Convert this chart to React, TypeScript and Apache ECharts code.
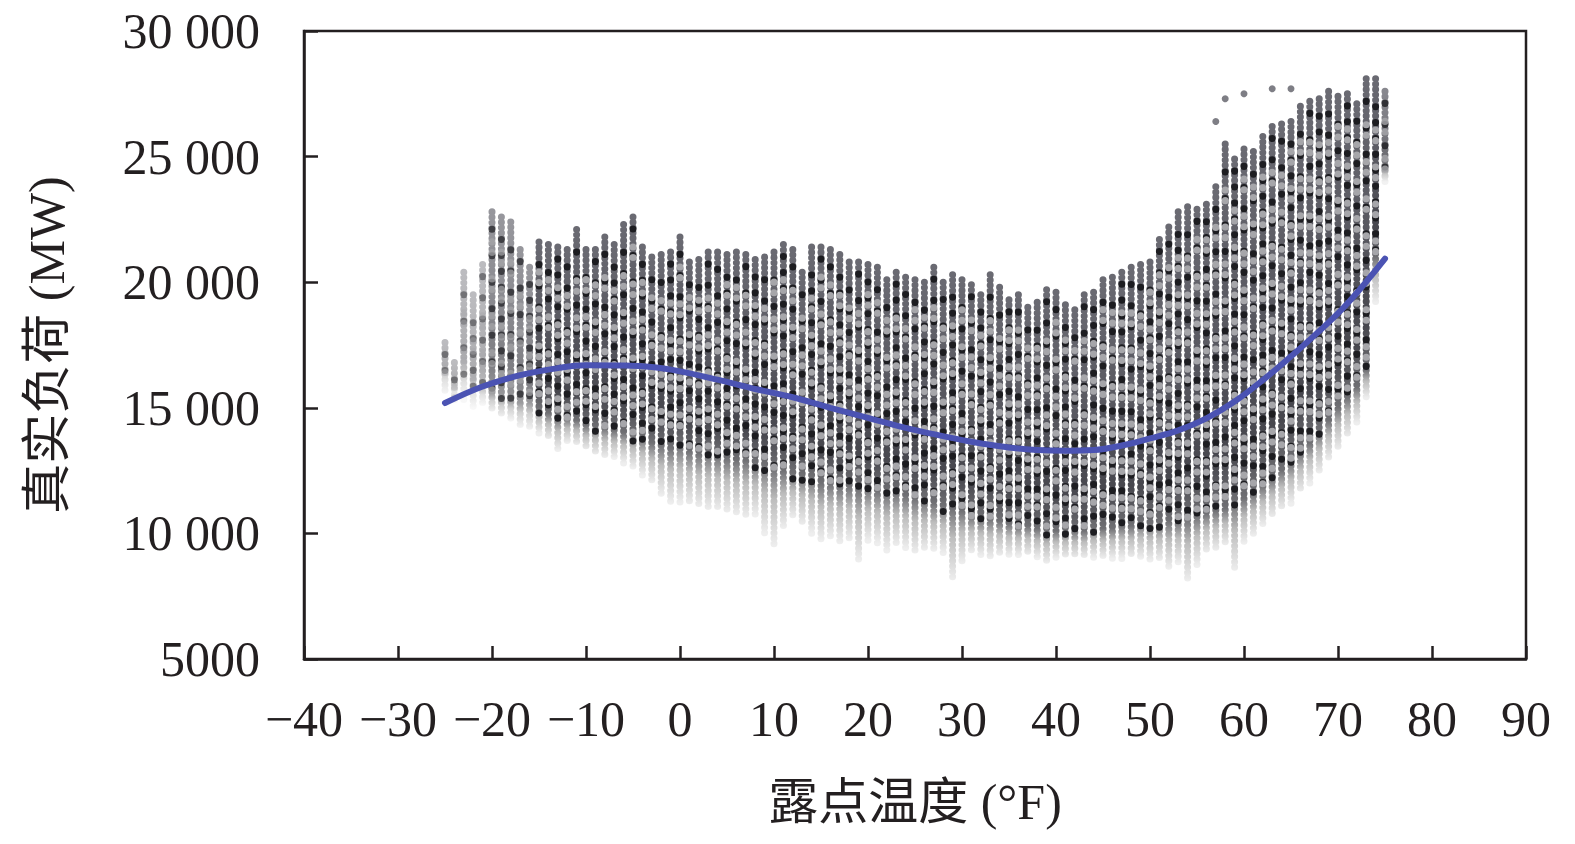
import React, { useEffect, useRef } from "react";
import * as echarts from "echarts";

// Dew point columns (°F) and the load envelope (MW)
const dewPoints = [
  -25, -24, -23, -22, -21, -20, -19, -18, -17, -16, -15, -14, -13, -12, -11, -10,
  -9, -8, -7, -6, -5, -4, -3, -2, -1, 0, 1, 2, 3, 4, 5, 6, 7, 8, 9, 10,
  11, 12, 13, 14, 15, 16, 17, 18, 19, 20, 21, 22, 23, 24, 25, 26, 27, 28, 29, 30,
  31, 32, 33, 34, 35, 36, 37, 38, 39, 40, 41, 42, 43, 44, 45, 46, 47, 48, 49, 50,
  51, 52, 53, 54, 55, 56, 57, 58, 59, 60, 61, 62, 63, 64, 65, 66, 67, 68, 69, 70,
  71, 72, 73, 74, 75,
];
const loadMax = [
  17600, 16800, 20400, 19500, 20700, 22800, 22600, 22400, 21300, 20600, 21600, 21500, 21400, 21300, 22100, 21300,
  21300, 21800, 21500, 22300, 22600, 21400, 21000, 21100, 21200, 21800, 20800, 20900, 21200, 21200, 21100, 21200, 21100, 20900, 21000, 21200,
  21500, 21300, 20400, 21400, 21400, 21300, 21100, 20800, 20800, 20700, 20600, 20100, 20400, 20200, 20100, 20000, 20600, 20000, 20300, 20100,
  19900, 19500, 20300, 19800, 19300, 19500, 19000, 19200, 19700, 19600, 19100, 18900, 19500, 19600, 20100, 20200, 20400, 20600, 20700,
  20800, 21700, 22200, 22800, 23000, 22900, 23100, 23800, 25500, 24900, 25300, 25200, 25800, 26200, 26300, 26400, 27000, 27200, 27300, 27600,
  27400, 27500, 27100, 28100, 28100, 27600,
];
// level under which the points turn light grey
const loadDarkMin = [
  16500, 16000, 16500, 16000, 15800, 15600, 15400, 15300, 15200, 15200, 15000, 14800, 14600, 14600, 14500, 14300,
  14200, 14200, 14100, 14000, 13900, 13800, 13600, 13500, 13400, 13500, 13300, 13200, 13200, 13100, 13000, 12900, 12900, 12800, 12700, 12600,
  12500, 12400, 12300, 12200, 12000, 12000, 11900, 11900, 11800, 11800, 11700, 11600, 11600, 11500, 11400, 11300, 11200, 11100, 11000, 10900,
  10700, 10600, 10600, 10500, 10400, 10300, 10300, 10200, 10100, 10100, 10100, 10100, 10100, 10200, 10200, 10200, 10300, 10300, 10400,
  10400, 10400, 10500, 10500, 10600, 10700, 10800, 10900, 11000, 11200, 11400, 11600, 11900, 12200, 12500, 12800, 13200, 13600, 14000, 14500,
  15000, 15400, 15800, 16500, 21000, 24500,
];
const loadMin = [
  15500, 15200, 15300, 15000, 15100, 14800, 14600, 14500, 14200, 14100, 14000, 13700, 13300, 13600, 13500, 13300,
  13100, 13000, 13000, 12800, 12600, 12300, 12000, 11500, 11200, 11200, 11100, 11000, 10900, 10900, 10800, 10700, 10600, 10700, 10000, 9500,
  10200, 10600, 10300, 10000, 9700, 9800, 9600, 9700, 8900, 9700, 9600, 9300, 9500, 9400, 9200, 9300, 9300, 9200, 8100, 8800,
  9200, 9100, 9000, 9100, 9100, 9100, 9100, 9000, 8800, 9000, 9000, 9000, 9000, 9000, 9000, 9000, 9000, 9000, 9000,
  8900, 8900, 8600, 8800, 8100, 8700, 9200, 9300, 9500, 8500, 9600, 9900, 10300, 10600, 10900, 11200, 11600, 12000, 12400, 12900,
  13300, 13800, 14400, 15400, 19200, 24000,
];

// isolated high points
const outlierX = [57, 58, 60, 63, 65];
const outlierY = [26400, 27300, 27500, 27700, 27700];

// fitted curve
const fitX = [-25, -21, -17, -13, -10, -6, -3, 0, 4, 8, 12, 16, 20, 24, 27, 31, 35, 38, 41, 44, 47, 50, 53, 56, 59, 62, 65, 68, 71, 75];
const fitY = [15190, 15850, 16300, 16580, 16690, 16680, 16620, 16450, 16120, 15750, 15420, 15000, 14600, 14200, 13950, 13650, 13420, 13320, 13290, 13320, 13500, 13780, 14100, 14580, 15250, 16100, 17050, 18050, 19150, 20940];

const xTicks = [-40, -30, -20, -10, 0, 10, 20, 30, 40, 50, 60, 70, 80, 90];
const yTicks = [5000, 10000, 15000, 20000, 25000, 30000];

const FONT = "'Liberation Serif', 'Times New Roman', 'Noto Sans CJK SC', serif";
const INK = "#231f20";

function fmtY(v: number): string {
  if (!yTicks.includes(v)) return "";
  if (v >= 10000) {
    const s = String(v);
    return s.slice(0, s.length - 3) + " " + s.slice(s.length - 3);
  }
  return String(v);
}
function fmtX(v: number): string {
  if (!xTicks.includes(v)) return "";
  return v < 0 ? "\u2212" + Math.abs(v) : String(v);
}

export default function App() {
  const ref = useRef<HTMLDivElement>(null);
  useEffect(() => {
    if (!ref.current) return;
    const chart = echarts.init(ref.current, null, { renderer: "svg" });
    const n = Math.min(dewPoints.length, loadMax.length, loadDarkMin.length, loadMin.length);
    const columns = dewPoints.slice(0, n).map((x, i) => [x, loadMax[i], loadDarkMin[i], loadMin[i]]);

    const renderItem = (params: any, api: any) => {
      const x = api.value(0);
      const top = api.coord([x, api.value(1)]);
      const dark = api.coord([x, api.value(2)]);
      const bot = api.coord([x, api.value(3)]);
      const px = top[0];
      const len = Math.max(1, bot[1] - top[1]);
      const t = Math.min(0.92, Math.max(0.08, (dark[1] - top[1]) / len));
      const t2 = t + (1 - t) * 0.4;
      const alpha = x <= -21 ? 0.45 : x <= -16 ? 0.7 : x >= 75 ? 0.8 : 1;
      const grad = new echarts.graphic.LinearGradient(
        px, top[1], px, bot[1],
        [
          { offset: 0, color: "#6a6a72" },
          { offset: t * 0.45, color: "#5a5a62" },
          { offset: t * 0.85, color: "#47474e" },
          { offset: t, color: "#707074" },
          { offset: t2, color: "#bdbdbd" },
          { offset: 1, color: "#eeeeee" },
        ],
        true
      );
      const idx = params.dataIndex;
      const children: any[] = [
        {
          type: "line",
          shape: { x1: px, y1: top[1], x2: px, y2: bot[1] },
          style: { stroke: grad, lineWidth: 7, lineCap: "round", lineDash: [0.1, 5.2], opacity: alpha, fill: null },
        },
      ];
      if (dark[1] - top[1] > 20) {
        children.push({
          type: "line",
          shape: { x1: px, y1: top[1] + 12 + (idx % 4) * 5.3, x2: px, y2: dark[1] + 6 },
          style: {
            stroke: "#1d1d21",
            lineWidth: 7,
            lineCap: "round",
            lineDash: [0.1, 15.8 + (idx % 3) * 5.3],
            opacity: alpha,
            fill: null,
          },
        });
        children.push({
          type: "line",
          shape: { x1: px, y1: top[1] + 30 + (idx % 5) * 5.3, x2: px, y2: dark[1] },
          style: {
            stroke: "#a6a6aa",
            lineWidth: 7,
            lineCap: "round",
            lineDash: [0.1, 10.5, 0.1, 26.3],
            opacity: alpha,
            fill: null,
          },
        });
      }
      return { type: "group", children };
    };

    chart.setOption({
      animation: false,
      backgroundColor: "#ffffff",
      grid: {
        left: 304,
        right: 49,
        top: 31,
        bottom: 185,
        show: true,
        borderColor: INK,
        borderWidth: 2.5,
        backgroundColor: "transparent",
      },
      xAxis: {
        type: "value",
        min: -40,
        max: 90,
        interval: 10,
        name: "露点温度 (°F)",
        nameLocation: "middle",
        nameGap: 118,
        nameTextStyle: { fontFamily: FONT, fontSize: 50, color: INK },
        axisLine: { show: true, onZero: false, lineStyle: { color: INK, width: 2.5 } },
        axisTick: { show: true, inside: true, length: 13, lineStyle: { color: INK, width: 2.5 } },
        axisLabel: { formatter: fmtX, fontFamily: FONT, fontSize: 50, color: INK, margin: 35 },
        splitLine: { show: false },
      },
      yAxis: {
        type: "value",
        min: 5000,
        max: 30000,
        interval: 5000,
        name: "真实负荷 (MW)",
        nameLocation: "middle",
        nameGap: 232,
        nameRotate: 90,
        nameTextStyle: { fontFamily: FONT, fontSize: 50, color: INK },
        axisLine: { show: true, onZero: false, lineStyle: { color: INK, width: 2.5 } },
        axisTick: { show: true, inside: true, length: 14, lineStyle: { color: INK, width: 2.5 } },
        axisLabel: { formatter: fmtY, fontFamily: FONT, fontSize: 50, color: INK, margin: 44 },
        splitLine: { show: false },
      },
      series: [
        {
          type: "custom",
          name: "负荷",
          renderItem,
          data: columns,
          encode: { x: 0, y: [1, 2, 3] },
          clip: true,
          z: 2,
        },
        {
          type: "scatter",
          name: "离群点",
          data: outlierX.map((x, i) => [x, outlierY[i]]),
          symbolSize: 7,
          itemStyle: { color: "#5e5e66" },
          z: 3,
        },
        {
          type: "line",
          name: "拟合",
          data: fitX.map((x, i) => [x, fitY[i]]),
          smooth: 0.4,
          showSymbol: false,
          lineStyle: { color: "#4b53b3", width: 6, cap: "round" },
          z: 5,
        },
      ],
    });
    return () => chart.dispose();
  }, []);
  return (
    <div
      ref={ref}
      style={{ position: "absolute", left: 0, top: 0, width: 1575, height: 844, background: "#fff" }}
    />
  );
}
